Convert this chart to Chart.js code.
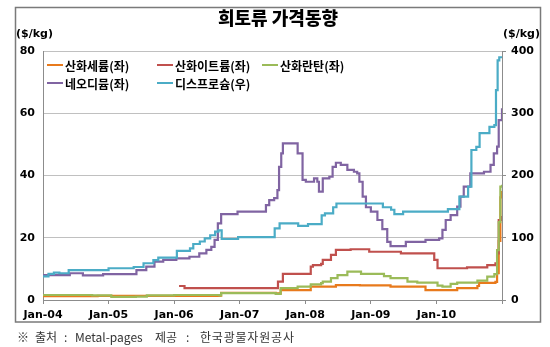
<!DOCTYPE html>
<html>
<head>
<meta charset="utf-8">
<script src="https://cdn.jsdelivr.net/npm/chart.js@4.4.0/dist/chart.umd.min.js"></script>
<style>
  body { margin: 0; background: #fff; }
  #wrap { width: 550px; height: 347px; }
</style>
</head>
<body>
<div id="wrap"><canvas id="chart" width="550" height="347"></canvas></div>
<script>
// rare earth prices, months counted from Jan 2004
const tickLabels = ['Jan-04', 'Jan-05', 'Jan-06', 'Jan-07', 'Jan-08', 'Jan-09', 'Jan-10'];
const seriesNames = ['산화세륨(좌)', '산화이트륨(좌)', '산화란탄(좌)', '네오디뮴(좌)', '디스프로슘(우)'];
const seriesColors = ['#E87A1C', '#C0504D', '#9BBB59', '#8064A2', '#4BACC6'];

// cerium oxide ($/kg, left)
const ceMonths = [0, 10, 25, 32.3, 32.6, 42.6, 43.5, 49, 53.6, 58, 63.6, 69.5, 70, 75.8, 79.5, 79.8, 82.8, 83.1, 83.4, 83.7, 84];
const cePrice  = [1.2, 1.3, 1.3, 1.4, 2.3, 2.1, 3.2, 4.3, 4.8, 4.7, 4.3, 4.3, 3.2, 3.8, 4.5, 5.5, 5.8, 8.6, 19, 33, 35];

// yttrium oxide ($/kg, left)
const yMonths = [24.9, 25.9, 42.6, 43, 43.9, 48.7, 49, 49.4, 50.9, 51.2, 52.7, 53.6, 56.3, 59.7, 65.5, 71.3, 71.6, 72.2, 77.6, 81.3, 82.8, 83.1, 83.4, 84];
const yPrice  = [4.5, 3.8, 3.8, 5.9, 8.4, 8.4, 10.7, 11.2, 11.6, 12.9, 14.5, 16.1, 16.3, 15.5, 15, 15, 12.9, 10.2, 10.5, 11.2, 11.8, 15, 25.7, 27];

// lanthanum oxide ($/kg, left)
const laMonths = [0, 9, 12.5, 17, 19, 24, 32.3, 32.6, 42.6, 43.5, 46.6, 49, 50.9, 51.2, 52.7, 53.9, 55.7, 58.2, 60.6, 62.4, 63.6, 66.7, 68.5, 72.2, 73.1, 74.6, 75.8, 79.5, 81.3, 82.6, 83.1, 83.4, 83.7, 84];
const laPrice  = [1.6, 1.5, 1.0, 1.1, 1.5, 1.6, 1.5, 2.2, 2.0, 3.8, 4.3, 5, 5.4, 5.9, 7, 8, 9.1, 8.4, 8.4, 7.7, 7, 5.9, 5.6, 4.6, 4.3, 5.2, 5.6, 6.2, 7.5, 8.3, 16, 25, 36.4, 37];

// neodymium ($/kg, left)
const ndMonths = [0, 4.9, 7.3, 11, 17.1, 18.9, 20.4, 22, 24.4, 26.8, 28.6, 29.9, 30.8, 31.4, 32, 32.6, 35.6, 40.8, 41.4, 42.3, 42.9, 43.2, 43.6, 43.9, 46.6, 47.5, 48.1, 49.6, 50.2, 50.5, 51.2, 52.4, 53, 53.6, 54.5, 55.7, 56.9, 57.5, 57.9, 58.5, 59.1, 60, 61.2, 62.1, 63, 63.6, 66.4, 70, 72.5, 73.1, 73.7, 74.6, 75.8, 76.4, 77, 78.2, 80.7, 81.9, 82.5, 83.1, 83.4, 84];
const ndPrice  = [8, 8.6, 7.9, 8.3, 9.6, 10.7, 12.3, 12.9, 13.4, 13.9, 15, 16.1, 17.1, 19.3, 24.6, 27.6, 28.4, 30.5, 32.1, 32.7, 35.3, 42.8, 47.1, 50.3, 47.1, 38.6, 38, 39.1, 38, 34.8, 39.1, 39.6, 42.8, 44.1, 43.4, 41.8, 41.2, 40.7, 38, 33.2, 29.8, 28.4, 25.7, 22.8, 18.7, 17.3, 18.7, 19.3, 19.8, 22.5, 25.7, 27.3, 30, 33.2, 36.4, 40.7, 41.2, 43.4, 47.1, 49.3, 57.8, 61.6];

// dysprosium ($/kg, right)
const dyMonths = [0, 1, 2, 3, 4.7, 12, 16.6, 18.4, 20.2, 21.1, 24.5, 26.9, 27.5, 28.7, 29.6, 30.6, 31.5, 32.1, 32.7, 35.7, 42.4, 43.3, 46.7, 48.5, 51, 51.6, 53.1, 53.7, 62.2, 63.7, 64.3, 65.9, 74.1, 76.2, 77.8, 78.4, 79.3, 79.9, 81.7, 82.6, 82.9, 83.2, 83.5, 84];
const dyPrice  = [38, 42, 44, 43, 48, 51, 53, 59, 64, 68, 79, 83, 90, 94, 99, 104, 110, 112, 98, 101, 115, 123, 119, 122, 136, 139, 149, 155, 149, 145, 138, 142, 146, 166, 182, 241, 246, 268, 278, 281, 337, 385, 390, 390];

function pts(xs, ys) {
  return xs.map((x, i) => ({ x: x, y: ys[i] }));
}

const lineSets = [
  { months: ceMonths, price: cePrice, axis: 'y', order: 4 },
  { months: yMonths, price: yPrice, axis: 'y', order: 3 },
  { months: laMonths, price: laPrice, axis: 'y', order: 2 },
  { months: ndMonths, price: ndPrice, axis: 'y', order: 1 },
  { months: dyMonths, price: dyPrice, axis: 'y1', order: 0 }
];

const tickFont = { family: 'DejaVu Sans', weight: 'bold', size: 11 };

// frame, title, unit labels, legend and source note
const decorations = {
  id: 'decorations',
  beforeDraw(chart) {
    const ctx = chart.ctx;
    ctx.save();
    ctx.fillStyle = '#fff';
    ctx.fillRect(0, 0, chart.width, chart.height);
    ctx.restore();
  },
  afterDraw(chart) {
    const ctx = chart.ctx;
    ctx.save();
    ctx.strokeStyle = '#7a7a7a';
    ctx.lineWidth = 1.5;
    ctx.strokeRect(15.5, 7.5, 525, 314.5);

    ctx.fillStyle = '#000';
    ctx.textBaseline = 'middle';
    ctx.textAlign = 'center';
    ctx.font = '900 18px "Noto Sans CJK KR"';
    ctx.fillText('희토류 가격동향', 278, 18);

    ctx.font = 'bold 11px "DejaVu Sans"';
    ctx.textAlign = 'left';
    ctx.fillText('($/kg)', 16, 34);
    ctx.textAlign = 'right';
    ctx.fillText('($/kg)', 540, 34);

    // legend in two rows inside the plot
    const slots = [[47, 65], [157, 65], [262, 65], [47, 83], [157, 83]];
    ctx.font = 'bold 12px "Noto Sans CJK KR"';
    ctx.textAlign = 'left';
    chart.data.datasets.forEach((ds, i) => {
      const [lx, ly] = slots[i];
      ctx.strokeStyle = ds.borderColor;
      ctx.lineWidth = 2;
      ctx.beginPath();
      ctx.moveTo(lx, ly);
      ctx.lineTo(lx + 16, ly);
      ctx.stroke();
      ctx.fillStyle = '#000';
      ctx.fillText(ds.label, lx + 18, ly + 1);
    });

    // source note, spaced out word by word
    ctx.font = '12px "Noto Sans CJK KR"';
    ctx.fillStyle = '#333';
    const note = [['※', 17], ['출처', 35], [':', 64], ['Metal-pages', 75], ['제공', 155], [':', 186], ['한국광물자원공사', 200]];
    note.forEach(([t, x]) => {
      if (t === '한국광물자원공사') {
        ctx.letterSpacing = '0.8px';
      }
      ctx.fillText(t, x, 337);
    });
    ctx.restore();
  }
};

new Chart(document.getElementById('chart'), {
  type: 'line',
  data: {
    datasets: lineSets.map((s, i) => ({
      label: seriesNames[i],
      data: pts(s.months, s.price),
      yAxisID: s.axis,
      borderColor: seriesColors[i],
      backgroundColor: seriesColors[i],
      borderWidth: 2.2,
      pointRadius: 0,
      stepped: true,
      fill: false,
      order: s.order
    }))
  },
  options: {
    responsive: false,
    animation: false,
    layout: { padding: { top: 51, left: 0, right: 0, bottom: 0 } },
    plugins: {
      legend: { display: false },
      title: { display: false },
      tooltip: { enabled: false }
    },
    scales: {
      x: {
        type: 'linear',
        min: 0,
        max: 84,
        afterFit(s) { s.height = 47; },
        ticks: {
          stepSize: 12,
          autoSkip: false,
          maxRotation: 0,
          padding: 5,
          color: '#000',
          font: tickFont,
          callback: v => tickLabels[v / 12] || ''
        },
        grid: { drawOnChartArea: false, drawTicks: true, tickLength: 4, color: '#8c8c8c' },
        border: { color: '#8c8c8c' }
      },
      y: {
        position: 'left',
        min: 0,
        max: 80,
        afterFit(s) { s.width = 43; },
        ticks: { stepSize: 20, padding: 8, color: '#000', font: tickFont },
        grid: { color: '#c0c0c0', drawTicks: false },
        border: { color: '#8c8c8c' }
      },
      y1: {
        position: 'right',
        min: 0,
        max: 400,
        afterFit(s) { s.width = 48; },
        ticks: { stepSize: 100, padding: 5, color: '#000', font: tickFont },
        grid: { drawOnChartArea: false, tickLength: 4, color: '#8c8c8c' },
        border: { color: '#8c8c8c' }
      }
    }
  },
  plugins: [decorations]
});
</script>
</body>
</html>
